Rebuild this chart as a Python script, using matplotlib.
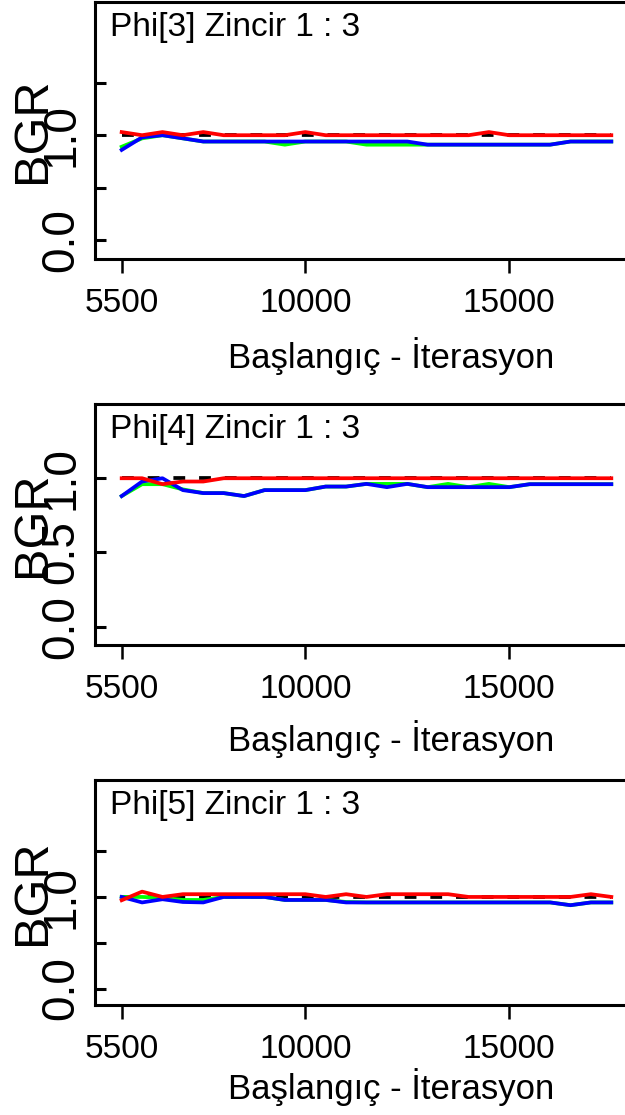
import matplotlib
matplotlib.use("Agg")
import matplotlib.pyplot as plt

plt.rcParams['font.family'] = ['Liberation Sans', 'DejaVu Sans']
plt.rcParams['lines.scale_dashes'] = False

# start iteration of each BGR window
iterations = [5500, 6000, 6500, 7000, 7500, 8000, 8500, 9000, 9500, 10000,
              10500, 11000, 11500, 12000, 12500, 13000, 13500, 14000, 14500,
              15000, 15500, 16000, 16500, 17000, 17500]

titles = ["Phi[3] Zincir 1 : 3", "Phi[4] Zincir 1 : 3", "Phi[5] Zincir 1 : 3"]

# pooled width (green), within width (blue), ratio (red)
phi3_green = [0.89, 0.97, 1.00, 0.97, 0.94, 0.94, 0.94, 0.94, 0.91, 0.94, 0.94, 0.94, 0.91,
              0.91, 0.91, 0.91, 0.91, 0.91, 0.91, 0.91, 0.91, 0.91, 0.94, 0.94, 0.94]
phi3_blue = [0.86, 0.98, 1.00, 0.97, 0.94, 0.94, 0.94, 0.94, 0.94, 0.94, 0.94, 0.94, 0.94,
             0.94, 0.94, 0.91, 0.91, 0.91, 0.91, 0.91, 0.91, 0.91, 0.94, 0.94, 0.94]
phi3_red = [1.03, 1.00, 1.03, 1.00, 1.03, 1.00, 1.00, 1.00, 1.00, 1.03, 1.00, 1.00, 1.00,
            1.00, 1.00, 1.00, 1.00, 1.00, 1.03, 1.00, 1.00, 1.00, 1.00, 1.00, 1.00]

phi4_green = [0.88, 0.96, 0.96, 0.925, 0.90, 0.90, 0.88, 0.92, 0.92, 0.92, 0.944, 0.944, 0.962,
              0.962, 0.962, 0.94, 0.962, 0.94, 0.962, 0.94, 0.96, 0.96, 0.96, 0.96, 0.96]
phi4_blue = [0.88, 0.978, 1.00, 0.92, 0.90, 0.90, 0.88, 0.92, 0.92, 0.92, 0.944, 0.944, 0.962,
             0.94, 0.962, 0.94, 0.94, 0.94, 0.94, 0.94, 0.96, 0.96, 0.96, 0.96, 0.96]
phi4_red = [1.00, 1.00, 0.96, 0.978, 0.978, 1.00, 1.00, 1.00, 1.00, 1.00, 1.00, 1.00, 1.00,
            1.00, 1.00, 1.00, 1.00, 1.00, 1.00, 1.00, 1.00, 1.00, 1.00, 1.00, 1.00]

phi5_green = [1.00, 1.00, 0.99, 0.967, 0.967, 1.00, 1.00, 1.00, 0.967, 0.967, 0.967, 0.945, 0.94,
              0.94, 0.94, 0.94, 0.94, 0.94, 0.94, 0.94, 0.94, 0.94, 0.91, 0.94, 0.94]
phi5_blue = [1.00, 0.94, 0.975, 0.945, 0.94, 1.00, 1.00, 1.00, 0.967, 0.967, 0.967, 0.94, 0.94,
             0.94, 0.94, 0.94, 0.94, 0.94, 0.94, 0.94, 0.94, 0.94, 0.91, 0.94, 0.94]
phi5_red = [0.964, 1.058, 1.00, 1.03, 1.03, 1.03, 1.03, 1.03, 1.03, 1.03, 1.00, 1.03, 1.00,
            1.03, 1.03, 1.03, 1.03, 1.00, 1.00, 1.00, 1.00, 1.00, 1.00, 1.03, 1.00]

greens = [phi3_green, phi4_green, phi5_green]
blues = [phi3_blue, phi4_blue, phi5_blue]
reds = [phi3_red, phi4_red, phi5_red]

x_ticks = [5500, 10000, 15000]
y_ticks = [[0.0, 0.5, 1.0, 1.5], [0.0, 0.5, 1.0], [0.0, 0.5, 1.0, 1.5]]
y_labels = [["0.0", "", "1.0", ""], ["0.0", "0.5", "1.0"], ["0.0", "", "1.0", ""]]
y_limits = [(-0.18, 2.27), (-0.123, 1.50), (-0.18, 2.277)]

W, H = 625, 1115
fig = plt.figure(figsize=(W / 100, H / 100), dpi=100)

# (top, bottom) of each plot box in pixels, and x-label baseline offset
boxes = [(2, 259), (404, 645), (780, 1005)]
xlab_off = [109, 106, 94]
left_px, right_px = 95, 687
width_px = right_px - left_px
lw = 2.7

for i in range(3):
    top, bot = boxes[i]
    ax = fig.add_axes([left_px / W, 1 - bot / H, width_px / W, (bot - top) / H])

    ax.hlines(1.0, iterations[0], iterations[-1], colors='black', lw=lw,
              linestyles=(0, (8.5, 10)), zorder=1)
    ax.plot(iterations, greens[i], color='#00ff00', lw=lw, zorder=2)
    ax.plot(iterations, blues[i], color='#0000ff', lw=lw, zorder=3)
    ax.plot(iterations, reds[i], color='#ff0000', lw=lw, zorder=4)

    ax.set_xlim(4846, 19355)
    ax.set_ylim(*y_limits[i])

    for s in ['left', 'bottom', 'top']:
        ax.spines[s].set_linewidth(2.2)
    ax.spines['right'].set_visible(False)

    ax.set_xticks(x_ticks)
    ax.set_xticklabels([str(v) for v in x_ticks])
    ax.tick_params(axis='x', direction='out', length=10, width=1.8, pad=11, labelsize=24)
    ax.set_yticks(y_ticks[i])
    ax.set_yticklabels(y_labels[i], rotation=90, va='center', ha='right',
                       rotation_mode='default')
    ax.tick_params(axis='y', direction='in', length=8, width=2.2, pad=8.6, labelsize=33)

    ax.text(15 / width_px, 1 - 10 / (bot - top), titles[i],
            transform=ax.transAxes, ha='left', va='top', fontsize=24)

    ax.set_ylabel("BGR", fontsize=35, va='baseline')
    ax.yaxis.set_label_coords(-50 / width_px, 0.5)
    ax.set_xlabel("Başlangıç - İterasyon", fontsize=25, va='baseline')
    ax.xaxis.set_label_coords(0.5, -xlab_off[i] / (bot - top))

fig.savefig("out.png", dpi=100)
